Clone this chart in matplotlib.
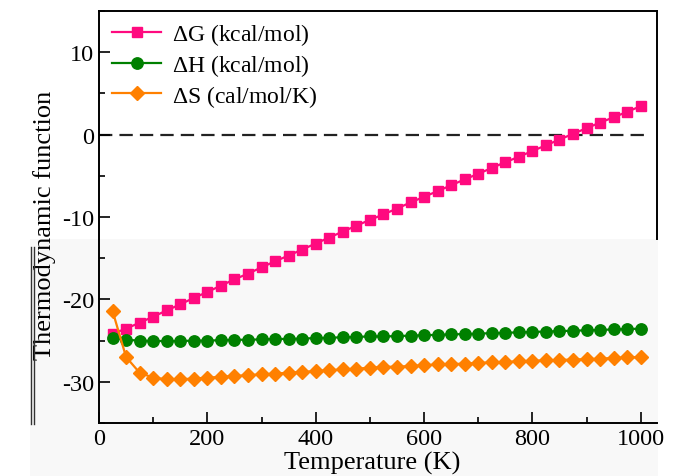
import matplotlib
matplotlib.use("Agg")
import matplotlib.pyplot as plt
from matplotlib.patches import Rectangle
from matplotlib.lines import Line2D

# temperature grid (K)
temp = [25, 50, 75, 100, 125, 150, 175, 200, 225, 250,
        275, 300, 325, 350, 375, 400, 425, 450, 475, 500,
        525, 550, 575, 600, 625, 650, 675, 700, 725, 750,
        775, 800, 825, 850, 875, 900, 925, 950, 975, 1000]

# dG (kcal/mol)
dG = [-24.17, -23.55, -22.83, -22.10, -21.34, -20.60, -19.82, -19.10, -18.33, -17.57,
      -16.87, -16.12, -15.37, -14.68, -13.95, -13.22, -12.49, -11.77, -11.06, -10.35,
      -9.69, -8.97, -8.24, -7.55, -6.86, -6.15, -5.43, -4.76, -4.05, -3.35,
      -2.69, -1.99, -1.30, -0.60, 0.09, 0.78, 1.46, 2.10, 2.77, 3.45]

# dH (kcal/mol)
dH = [-24.7, -24.9, -25.0, -25.05, -25.05, -25.05, -25.0, -25.0, -24.95, -24.9,
      -24.9, -24.85, -24.8, -24.8, -24.75, -24.7, -24.65, -24.6, -24.55, -24.5,
      -24.5, -24.45, -24.4, -24.35, -24.3, -24.25, -24.2, -24.15, -24.1, -24.05,
      -24.0, -23.95, -23.9, -23.85, -23.8, -23.75, -23.7, -23.65, -23.6, -23.55]

# dS (cal/mol/K)
dS = [-21.4, -27.0, -28.9, -29.5, -29.7, -29.7, -29.6, -29.5, -29.4, -29.3,
      -29.2, -29.1, -29.0, -28.9, -28.8, -28.7, -28.6, -28.5, -28.4, -28.3,
      -28.2, -28.15, -28.1, -28.0, -27.9, -27.85, -27.8, -27.7, -27.65, -27.6,
      -27.5, -27.45, -27.4, -27.35, -27.3, -27.25, -27.2, -27.1, -27.05, -27.0]

labels = ['$\\Delta$G (kcal/mol)', '$\\Delta$H (kcal/mol)', '$\\Delta$S (cal/mol/K)']

plt.rcParams['font.family'] = 'Liberation Serif'
plt.rcParams['mathtext.fontset'] = 'custom'
plt.rcParams['mathtext.rm'] = 'Liberation Serif'
plt.rcParams['mathtext.it'] = 'Liberation Serif'
plt.rcParams['axes.unicode_minus'] = False

W, H = 683, 477
fig = plt.figure(figsize=(W / 100, H / 100), dpi=100)

# light grey lower panel of the screenshot
fig.add_artist(Rectangle((30 / W, 0), 628 / W, 237 / H, transform=fig.transFigure,
                         facecolor='#f8f8f8', edgecolor='none', zorder=0))
for xp in (31, 34):
    fig.add_artist(Line2D([xp / W, xp / W], [1 - 425 / H, 1 - 248 / H],
                          transform=fig.transFigure, color='#333333', lw=1.0))

ax = fig.add_axes([99 / W, 1 - 424 / H, 558 / W, 412 / H])
ax.set_facecolor('none')

ax.plot(temp, dG, '-s', color='#ff0a7f', ms=7.4, lw=1.6, label=labels[0])
ax.plot(temp, dH, '-o', color='#008000', ms=8.2, lw=1.6, label=labels[1])
ax.plot(temp, dS, '-D', color='#ff8000', ms=7.2, lw=1.6, label=labels[2])
ax.axhline(0, color='#222222', ls=(0, (6, 3.2)), lw=1.6, xmax=0.985, zorder=1)

ax.set_xlim(0, 1030)
ax.set_ylim(-35, 15)
ax.set_xticks([0, 200, 400, 600, 800, 1000])
ax.set_xticks([100, 300, 500, 700, 900], minor=True)
ax.set_yticks([-30, -20, -10, 0, 10])
ax.set_yticks([-35, -25, -15, -5, 5, 15], minor=True)
ax.tick_params(which='both', direction='in', labelsize=17.5, width=1.2,
               top=False, right=False)
ax.tick_params(which='major', length=8)
ax.tick_params(which='minor', length=4)
for s in ax.spines.values():
    s.set_linewidth(1.4)
ax.spines['right'].set_bounds(-12.7, 15)

ax.set_xlabel('Temperature (K)', fontsize=19)
ax.set_ylabel('Thermodynamic function', fontsize=19)
ax.xaxis.set_label_coords(0.49, -0.068)
ax.yaxis.set_label_coords(-0.077, 0.483)

ax.legend(loc='upper left', bbox_to_anchor=(0.023, 0.975), frameon=False,
          fontsize=17, numpoints=1, handlelength=2.1, handletextpad=0.45,
          labelspacing=0.2, borderaxespad=0, borderpad=0)

fig.savefig('out.png', dpi=100)
